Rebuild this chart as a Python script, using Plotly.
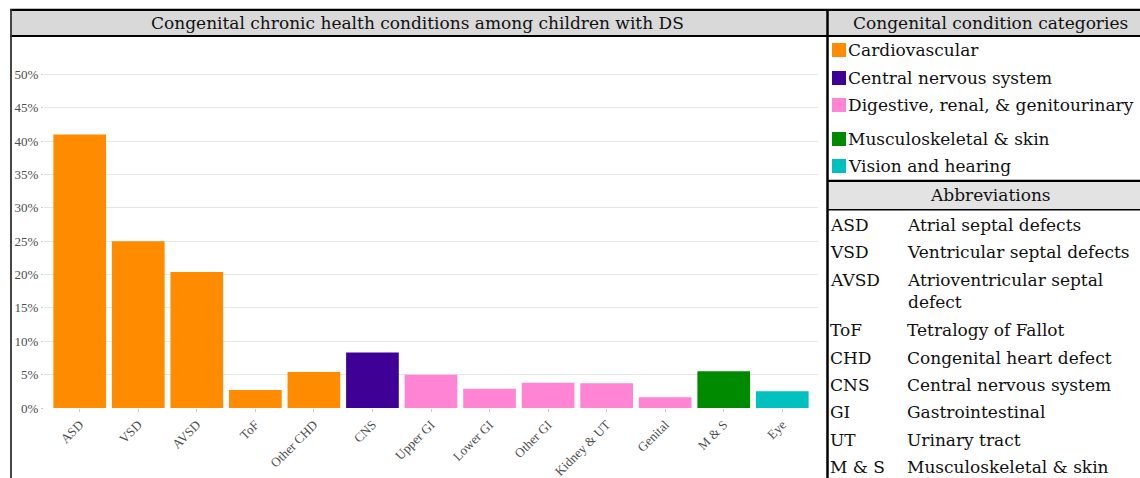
import plotly.graph_objects as go

# ---------------- data ----------------
categories = ["ASD", "VSD", "AVSD", "ToF", "Other CHD", "CNS", "Upper GI",
              "Lower GI", "Other GI", "Kidney & UT", "Genital", "M & S", "Eye"]
values = [0.41, 0.25, 0.204, 0.027, 0.054, 0.083, 0.050,
          0.029, 0.038, 0.037, 0.016, 0.055, 0.025]
groups = ["Cardiovascular"] * 5 + ["Central nervous system"] + \
         ["Digestive, renal, & genitourinary"] * 5 + \
         ["Musculoskeletal & skin", "Vision and hearing"]
group_names = ["Cardiovascular", "Central nervous system",
               "Digestive, renal, & genitourinary", "Musculoskeletal & skin",
               "Vision and hearing"]
group_colors = ["#FF8C00", "#3F0096", "#FF85D4", "#008A00", "#00C0C0"]
y_tickvals = [0, 0.05, 0.10, 0.15, 0.20, 0.25, 0.30, 0.35, 0.40, 0.45, 0.50]
abbrevs = ["ASD", "VSD", "AVSD", "ToF", "CHD", "CNS", "GI", "UT", "M & S"]
abbrev_desc = ["Atrial septal defects", "Ventricular septal defects",
               "Atrioventricular septal<br>defect", "Tetralogy of Fallot",
               "Congenital heart defect", "Central nervous system",
               "Gastrointestinal", "Urinary tract", "Musculoskeletal & skin"]

title_text = "Congenital chronic health conditions among children with DS"
legend_title = "Congenital condition categories"
abbr_title = "Abbreviations"

# ---------------- figure ----------------
W, H = 1140, 478
color_of = dict(zip(group_names, group_colors))

def px(x):
    return x / W

def py(y):
    return 1 - y / H

SERIF = "DejaVu Serif"
FS = 17
TXT = "#111111"
TICKFONT = dict(family="Liberation Serif", size=13, color="#4d4d4d")

fig = go.Figure()
fig.add_trace(go.Bar(
    x=categories, y=values,
    marker=dict(color=[color_of[g] for g in groups], line=dict(width=0)),
    showlegend=False,
    hovertemplate="%{x}: %{y:.1%}<extra></extra>",
))

fig.update_layout(
    width=W, height=H,
    margin=dict(l=0, r=0, t=0, b=0, autoexpand=False),
    paper_bgcolor="white", plot_bgcolor="white",
    bargap=0.1,
    xaxis=dict(domain=[px(44), px(818)], range=[-0.61, 12.61],
               tickangle=-45, tickfont=TICKFONT, ticks="outside", ticklen=3,
               tickcolor="#cccccc", showgrid=False, showline=False,
               zeroline=False, automargin=False,
               categoryorder="array", categoryarray=categories),
    yaxis=dict(domain=[py(408), py(41)], range=[0, 0.55],
               tickvals=y_tickvals, tickformat=".0%", tickfont=TICKFONT,
               ticks="outside", ticklen=2, tickcolor="#cccccc",
               gridcolor="#e6e6e6", gridwidth=1, zeroline=False,
               showline=False, automargin=False),
    font=dict(family=SERIF),
)

shapes = []
annotations = []
BLACK = "#000000"
GRAY = "#d9d9d9"

# header bars
shapes.append(dict(type="rect", xref="paper", yref="paper",
                   x0=px(11), x1=px(1141), y0=py(36), y1=py(10),
                   fillcolor=GRAY, line=dict(width=0), layer="below"))
shapes.append(dict(type="rect", xref="paper", yref="paper",
                   x0=px(828), x1=px(1141), y0=py(209.5), y1=py(181),
                   fillcolor="#e3e3e3", line=dict(width=0), layer="below"))
# horizontal rules
for (x0, x1, y, w) in [(10, 1141, 9.8, 2.2), (10, 1141, 36, 2.2),
                       (828, 1141, 180.8, 2.2), (828, 1141, 209.8, 1.4)]:
    shapes.append(dict(type="line", xref="paper", yref="paper",
                       x0=px(x0), x1=px(x1), y0=py(y), y1=py(y),
                       line=dict(color=BLACK, width=w)))
# vertical rules
shapes.append(dict(type="line", xref="paper", yref="paper",
                   x0=px(11), x1=px(11), y0=py(9), y1=py(480),
                   line=dict(color="#333333", width=1.8)))
shapes.append(dict(type="line", xref="paper", yref="paper",
                   x0=px(827.5), x1=px(827.5), y0=py(9), y1=py(480),
                   line=dict(color=BLACK, width=2.5)))

# titles
annotations.append(dict(text=title_text, xref="paper", yref="paper",
                        x=px(418), y=py(23), xanchor="center", yanchor="middle",
                        showarrow=False, font=dict(family=SERIF, size=FS, color=TXT)))
annotations.append(dict(text=legend_title, xref="paper", yref="paper",
                        x=px(990), y=py(23), xanchor="center", yanchor="middle",
                        showarrow=False, font=dict(family=SERIF, size=FS, color=TXT)))
annotations.append(dict(text=abbr_title, xref="paper", yref="paper",
                        x=px(990), y=py(195), xanchor="center", yanchor="middle",
                        showarrow=False, font=dict(family=SERIF, size=FS, color=TXT)))

# legend
legend_y = [50, 78, 105, 139, 166]
for name, col, yc in zip(group_names, group_colors, legend_y):
    shapes.append(dict(type="rect", xref="paper", yref="paper",
                       x0=px(832), x1=px(846), y0=py(yc + 7), y1=py(yc - 7),
                       fillcolor=col, line=dict(width=0)))
    annotations.append(dict(text=name, xref="paper", yref="paper",
                            x=px(846), y=py(yc), xanchor="left", yanchor="middle",
                            showarrow=False,
                            font=dict(family=SERIF, size=FS, color=TXT)))

# abbreviations table
row_y = 225.0
for ab, desc in zip(abbrevs, abbrev_desc):
    annotations.append(dict(text=ab, xref="paper", yref="paper",
                            x=px(828), y=py(row_y), xanchor="left", yanchor="middle",
                            showarrow=False,
                            font=dict(family=SERIF, size=FS, color=TXT)))
    if "<br>" in desc:
        annotations.append(dict(text=desc, xref="paper", yref="paper",
                                x=px(905), y=py(row_y - 12), xanchor="left",
                                yanchor="top", align="left", showarrow=False,
                                font=dict(family=SERIF, size=FS, color=TXT)))
        row_y += 23
    else:
        annotations.append(dict(text=desc, xref="paper", yref="paper",
                                x=px(905), y=py(row_y), xanchor="left",
                                yanchor="middle", showarrow=False,
                                font=dict(family=SERIF, size=FS, color=TXT)))
    row_y += 27.4

fig.update_layout(shapes=shapes, annotations=annotations)

fig.write_html("out.html", include_plotlyjs=True, full_html=True,
               config={"displayModeBar": False},
               post_script="document.body.style.margin='0';")
